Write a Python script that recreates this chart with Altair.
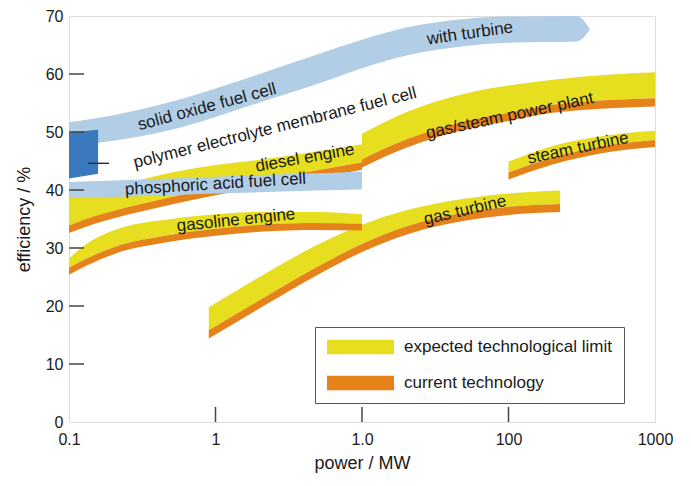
import altair as alt
import pandas as pd

# ---------------- axes ----------------
x_tick_values = [0.1, 1, 10, 100, 1000]
x_tick_labels = ["0.1", "1", "1.0", "100", "1000"]
y_tick_values = [0, 10, 20, 30, 40, 50, 60, 70]
x_inner_ticks = [1, 10, 100]
y_inner_ticks = [10, 20, 30, 40, 50, 60]

legend_names = ["expected technological limit", "current technology"]

# ---------------- engine / turbine bands (power MW, efficiency %) ----------------
gasoline_power = [0.1, 0.13, 0.2, 0.5, 1, 2, 5, 10]
gasoline_limit = [28.2, 30.6, 33.0, 35.0, 35.8, 36.2, 36.2, 35.8]
gasoline_current = [26.6, 28.1, 30.1, 32.3, 33.3, 34.0, 34.3, 34.2]
gasoline_low = [25.4, 26.9, 28.9, 31.1, 32.1, 32.8, 33.1, 33.0]

diesel_power = [0.1, 0.15, 0.2, 0.3, 0.5, 1, 2, 5, 10]
diesel_limit = [39.3, 40.0, 40.7, 41.7, 43.0, 44.3, 45.2, 46.7, 47.9]
diesel_current = [33.9, 35.5, 36.4, 37.5, 38.8, 40.4, 41.7, 43.4, 44.8]
diesel_low = [32.6, 34.2, 35.1, 36.2, 37.5, 39.1, 40.4, 42.1, 43.5]

gasturb_power = [0.9, 2, 5, 10, 20, 50, 100, 225]
gasturb_limit = [19.8, 25.0, 30.6, 34.0, 36.5, 38.5, 39.4, 39.9]
gasturb_current = [15.8, 21.0, 26.8, 30.7, 33.7, 36.1, 37.1, 37.6]
gasturb_low = [14.4, 19.6, 25.4, 29.3, 32.3, 34.7, 35.7, 36.2]

gassteam_power = [10, 20, 50, 100, 200, 500, 1000]
gassteam_limit = [49.7, 53.4, 56.6, 58.0, 59.0, 59.9, 60.3]
gassteam_current = [45.3, 48.7, 51.8, 53.3, 54.7, 55.5, 55.8]
gassteam_low = [43.9, 47.3, 50.4, 51.9, 53.3, 54.1, 54.4]

steam_power = [100, 200, 500, 1000]
steam_limit = [44.9, 47.6, 49.5, 50.2]
steam_current = [43.0, 45.6, 47.8, 48.6]
steam_low = [41.8, 44.4, 46.6, 47.4]

# ---------------- fuel cells ----------------
sofc_power = [0.1, 0.2, 0.5, 1, 2, 5, 10, 20, 50, 100, 294, 360]
sofc_high = [51.7, 52.9, 55.2, 57.5, 60.0, 63.4, 65.9, 68.0, 69.5, 69.9, 70.0, 67.7]
sofc_low = [47.6, 48.5, 50.4, 52.6, 55.1, 58.3, 61.0, 63.2, 64.8, 65.4, 65.6, 67.7]

pafc_power = [0.1, 0.5, 1, 2, 5, 10]
pafc_high = [41.4, 42.0, 42.3, 42.6, 42.9, 43.2]
pafc_low = [38.6, 39.1, 39.4, 39.6, 39.9, 40.1]

pem_power = [0.1, 0.158]
pem_high = [49.9, 50.4]
pem_low = [42.0, 42.8]

pem_leader_power = [0.135, 0.1875]
pem_leader_eff = 44.6

# ---------------- labels ----------------
label_text = ["with turbine", "solid oxide fuel cell",
              "polymer electrolyte membrane fuel cell",
              "phosphoric acid fuel cell", "diesel engine", "gasoline engine",
              "gas turbine", "gas/steam power plant", "steam turbine"]
label_power = [54.6, 0.875, 2.55, 1.0, 4.08, 1.38, 50.5, 102, 298]
label_eff = [67.0, 54.3, 50.7, 41.0, 45.5, 34.8, 36.5, 52.8, 47.2]
label_angle = [-8, -15, -14, -3.5, -10, -6, -13, -12, -12]

# ---------------- styles ----------------
YELLOW = "#e6de1e"
ORANGE = "#e5831a"
LIGHT_BLUE = "#b2cde6"
DARK_BLUE = "#3a79bd"
TEXT = "#1a1a1a"
FONT = "Liberation Sans"
PLOT_W = 586
PLOT_H = 406

label_expr = " : ".join(
    f"datum.value == {v} ? '{l}'" for v, l in zip(x_tick_values, x_tick_labels)
) + " : ''"

x_enc = alt.X(
    "power:Q",
    scale=alt.Scale(type="log", domain=[0.1, 1000], nice=False),
    axis=alt.Axis(values=x_tick_values, labelExpr=label_expr, ticks=False,
                  domain=False, grid=False, labelFlush=False, labelPadding=9,
                  labelFontSize=16, labelColor=TEXT, labelFont=FONT,
                  title="power / MW", titleFontSize=18, titleFont=FONT,
                  titleFontWeight="normal", titleColor=TEXT, titlePadding=7),
)
y_scale = alt.Scale(domain=[0, 70], nice=False)
y_axis = alt.Axis(values=y_tick_values, ticks=False, domain=False, grid=False,
                  labelFlush=False, labelPadding=6, labelFontSize=16,
                  labelColor=TEXT, labelFont=FONT, title="efficiency / %",
                  titleFontSize=18, titleFont=FONT, titleFontWeight="normal",
                  titleColor=TEXT, titlePadding=12)

color_enc = alt.Color(
    "kind:N",
    scale=alt.Scale(domain=legend_names, range=[YELLOW, ORANGE]),
    legend=alt.Legend(
        title=None, orient="none", legendX=246, legendY=311,
        direction="vertical",
        symbolType="M-1,-0.22L1,-0.22L1,0.22L-1,0.22Z", symbolSize=4489,
        symbolStrokeWidth=0, symbolOpacity=1, clipHeight=16, rowPadding=19,
        labelOffset=10, labelFontSize=17, labelColor=TEXT, labelFont=FONT,
        labelLimit=400, padding=12, strokeColor="#555", fillColor="white",
    ),
)


def engine_band(power, limit, current, low):
    rows = []
    for p, l, c, b in zip(power, limit, current, low):
        rows.append({"power": p, "lo": c, "hi": l, "kind": legend_names[0]})
        rows.append({"power": p, "lo": b, "hi": c, "kind": legend_names[1]})
    df = pd.DataFrame(rows)
    return alt.Chart(df).mark_area(interpolate="monotone", opacity=1).encode(
        x=x_enc,
        y=alt.Y("lo:Q", scale=y_scale, axis=y_axis, stack=None),
        y2="hi:Q",
        color=color_enc,
    )


def fuel_band(power, high, low, color, interp="monotone"):
    df = pd.DataFrame({"power": power, "lo": low, "hi": high})
    return alt.Chart(df).mark_area(interpolate=interp, color=color, opacity=1).encode(
        x=x_enc,
        y=alt.Y("lo:Q", scale=y_scale, axis=y_axis, stack=None),
        y2="hi:Q",
    )


layers = [
    engine_band(gasturb_power, gasturb_limit, gasturb_current, gasturb_low),
    engine_band(gasoline_power, gasoline_limit, gasoline_current, gasoline_low),
    engine_band(diesel_power, diesel_limit, diesel_current, diesel_low),
    engine_band(gassteam_power, gassteam_limit, gassteam_current, gassteam_low),
    engine_band(steam_power, steam_limit, steam_current, steam_low),
    fuel_band(sofc_power, sofc_high, sofc_low, LIGHT_BLUE),
    fuel_band(pafc_power, pafc_high, pafc_low, LIGHT_BLUE),
    fuel_band(pem_power, pem_high, pem_low, DARK_BLUE, interp="linear"),
]

leader_df = pd.DataFrame({"power": [pem_leader_power[0]], "power2": [pem_leader_power[1]],
                          "eff": [pem_leader_eff]})
layers.append(
    alt.Chart(leader_df).mark_rule(color="#333", strokeWidth=1.5).encode(
        x=x_enc, x2="power2:Q", y=alt.Y("eff:Q", scale=y_scale, axis=y_axis))
)

yt_df = pd.DataFrame({"eff": y_inner_ticks})
layers.append(
    alt.Chart(yt_df).mark_rule(color="#444", strokeWidth=1.5).encode(
        y=alt.Y("eff:Q", scale=y_scale, axis=y_axis),
        x=alt.value(0), x2=alt.value(15))
)
xt_df = pd.DataFrame({"power": x_inner_ticks})
layers.append(
    alt.Chart(xt_df).mark_rule(color="#444", strokeWidth=1.5).encode(
        x=x_enc, y=alt.value(PLOT_H), y2=alt.value(PLOT_H - 15))
)

lab_df = pd.DataFrame({"text": label_text, "power": label_power, "eff": label_eff,
                       "angle": [(360 + a) % 360 for a in label_angle]})
layers.append(
    alt.Chart(lab_df).mark_text(font=FONT, fontSize=17, color=TEXT, align="center",
                                baseline="middle").encode(
        x=x_enc, y=alt.Y("eff:Q", scale=y_scale, axis=y_axis), text="text:N",
        angle=alt.Angle("angle:Q", scale=None))
)

chart = alt.layer(*layers).properties(
    width=PLOT_W, height=PLOT_H,
    autosize=alt.AutoSizeParams(type="none"),
    padding={"left": 61, "top": 8, "right": 20, "bottom": 56},
).configure_view(stroke="#666", strokeWidth=1.5).configure(font=FONT)

chart.save("out.html", embed_options={"renderer": "svg", "actions": False})
